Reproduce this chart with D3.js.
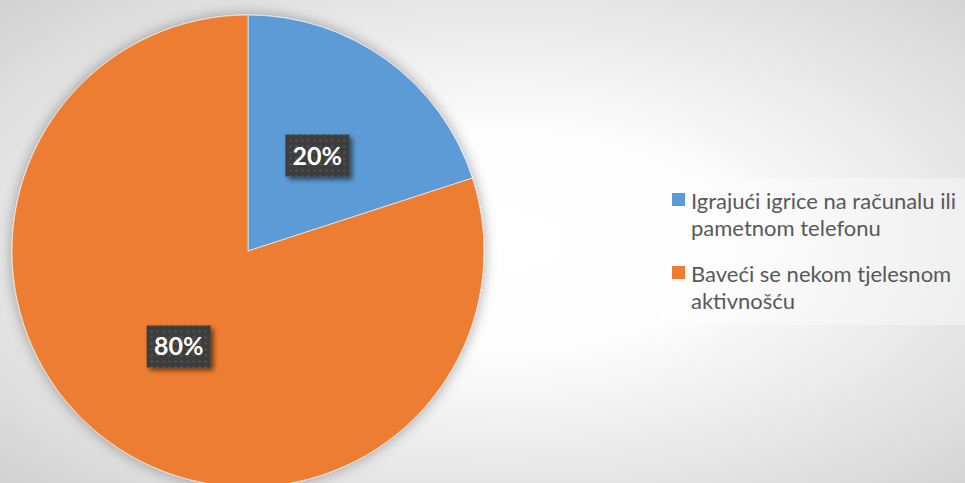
<!DOCTYPE html>
<html>
<head>
<meta charset="utf-8">
<script src="https://cdn.jsdelivr.net/npm/d3@7"></script>
<style>
  html, body { margin: 0; padding: 0; overflow: hidden; }
  svg { display: block; }
</style>
</head>
<body>
<svg id="chart" width="965" height="483"></svg>
<script>
// Share of answers per activity
const categories = [
  "Igrajući igrice na računalu ili pametnom telefonu",
  "Baveći se nekom tjelesnom aktivnošću"
];
const values = [20, 80];
const valueLabels = ["20%", "80%"];
const colors = ["#5B9BD5", "#ED7D31"];

const W = 965, H = 483;
const svg = d3.select("#chart");
const defs = svg.append("defs");

// Background: soft radial fade from white to light grey
const bg = defs.append("radialGradient").attr("id", "bgGrad")
  .attr("cx", "52%").attr("cy", "50%").attr("r", "72%");
[[0, "#ffffff"], [0.32, "#fdfdfd"], [0.7, "#e6e6e6"], [1, "#d2d2d2"]]
  .forEach(([o, c]) => bg.append("stop").attr("offset", o).attr("stop-color", c));
svg.append("rect").attr("width", W).attr("height", H).attr("fill", "url(#bgGrad)");

// Glow around the pie
const glow = defs.append("filter").attr("id", "pieGlow")
  .attr("x", "-10%").attr("y", "-10%").attr("width", "120%").attr("height", "120%");
glow.append("feGaussianBlur").attr("in", "SourceAlpha").attr("stdDeviation", 7).attr("result", "b");
glow.append("feComponentTransfer").attr("in", "b").attr("result", "s")
  .append("feFuncA").attr("type", "linear").attr("slope", 0.35);
const gm = glow.append("feMerge");
gm.append("feMergeNode").attr("in", "s");
gm.append("feMergeNode").attr("in", "SourceGraphic");

// Shadow under the value boxes
const boxShadow = defs.append("filter").attr("id", "boxShadow")
  .attr("x", "-20%").attr("y", "-20%").attr("width", "150%").attr("height", "160%");
boxShadow.append("feGaussianBlur").attr("in", "SourceAlpha").attr("stdDeviation", 2.5).attr("result", "b");
boxShadow.append("feOffset").attr("in", "b").attr("dx", 3).attr("dy", 3).attr("result", "o");
boxShadow.append("feComponentTransfer").attr("in", "o").attr("result", "s")
  .append("feFuncA").attr("type", "linear").attr("slope", 0.55);
const bm = boxShadow.append("feMerge");
bm.append("feMergeNode").attr("in", "s");
bm.append("feMergeNode").attr("in", "SourceGraphic");

// Dotted texture for the value boxes
const pat = defs.append("pattern").attr("id", "dots")
  .attr("patternUnits", "userSpaceOnUse").attr("width", 6).attr("height", 6);
pat.append("rect").attr("width", 6).attr("height", 6).attr("fill", "#3d3d3d");
pat.append("rect").attr("x", 2).attr("y", 2).attr("width", 2).attr("height", 2).attr("fill", "#575757");

// Pie
const cx = 248, cy = 251, radius = 236;
const pie = d3.pie().sort(null).value(d => d)
  .startAngle(0).endAngle(2 * Math.PI);
const arcs = pie(values);
const arc = d3.arc().innerRadius(0).outerRadius(radius);

const pieG = svg.append("g").attr("transform", `translate(${cx},${cy})`);
pieG.append("g").attr("filter", "url(#pieGlow)")
  .selectAll("path").data(arcs).join("path")
  .attr("d", arc)
  .attr("fill", (d, i) => colors[i])
  .attr("stroke", "#ffffff").attr("stroke-opacity", 0.6).attr("stroke-width", 1);

// Value labels in dark boxes at the slice centroids
const boxW = 64, boxH = 42;
const lab = pieG.selectAll("g.lab").data(arcs).join("g").attr("class", "lab")
  .attr("transform", d => { const [x, y] = arc.centroid(d); return `translate(${x},${y})`; });
lab.append("rect")
  .attr("x", -boxW / 2).attr("y", -boxH / 2).attr("width", boxW).attr("height", boxH)
  .attr("fill", "url(#dots)").attr("filter", "url(#boxShadow)");
lab.append("text")
  .attr("text-anchor", "middle").attr("dy", "0.36em")
  .attr("font-family", "Lato, 'Open Sans', sans-serif").attr("font-weight", 700)
  .attr("font-size", 25).attr("fill", "#ffffff")
  .text((d, i) => valueLabels[i]);

// Legend
const legX = 660, legY = 178;
svg.append("rect").attr("x", legX).attr("y", legY).attr("width", W - legX + 10).attr("height", 147)
  .attr("fill", "#ffffff").attr("fill-opacity", 0.35);

const textScale = 1.0, maxLine = 272, lineH = 26.5, itemGap = 73;
const fontSpec = { family: "Lato, 'Open Sans', sans-serif", size: 22 };
const legend = svg.append("g");
const measurer = svg.append("text").attr("font-family", fontSpec.family)
  .attr("font-size", fontSpec.size).attr("visibility", "hidden");
function width(s) { measurer.text(s); return measurer.node().getComputedTextLength() * textScale; }
function wrap(s) {
  const words = s.split(" "), lines = [];
  let cur = "";
  words.forEach(w => {
    const t = cur ? cur + " " + w : w;
    if (cur && width(t) > maxLine) { lines.push(cur); cur = w; } else cur = t;
  });
  if (cur) lines.push(cur);
  return lines;
}
categories.forEach((c, i) => {
  const y0 = 193 + i * itemGap;
  legend.append("rect").attr("x", 672).attr("y", y0).attr("width", 13).attr("height", 13)
    .attr("fill", colors[i]);
  const t = legend.append("text")
    .attr("transform", `translate(691,${y0 + 16}) scale(${textScale},1)`)
    .attr("font-family", fontSpec.family).attr("font-size", fontSpec.size)
    .attr("fill", "#595959");
  wrap(c).forEach((ln, j) => {
    t.append("tspan").attr("x", 0).attr("y", j * lineH).text(ln);
  });
});
measurer.remove();
</script>
</body>
</html>
